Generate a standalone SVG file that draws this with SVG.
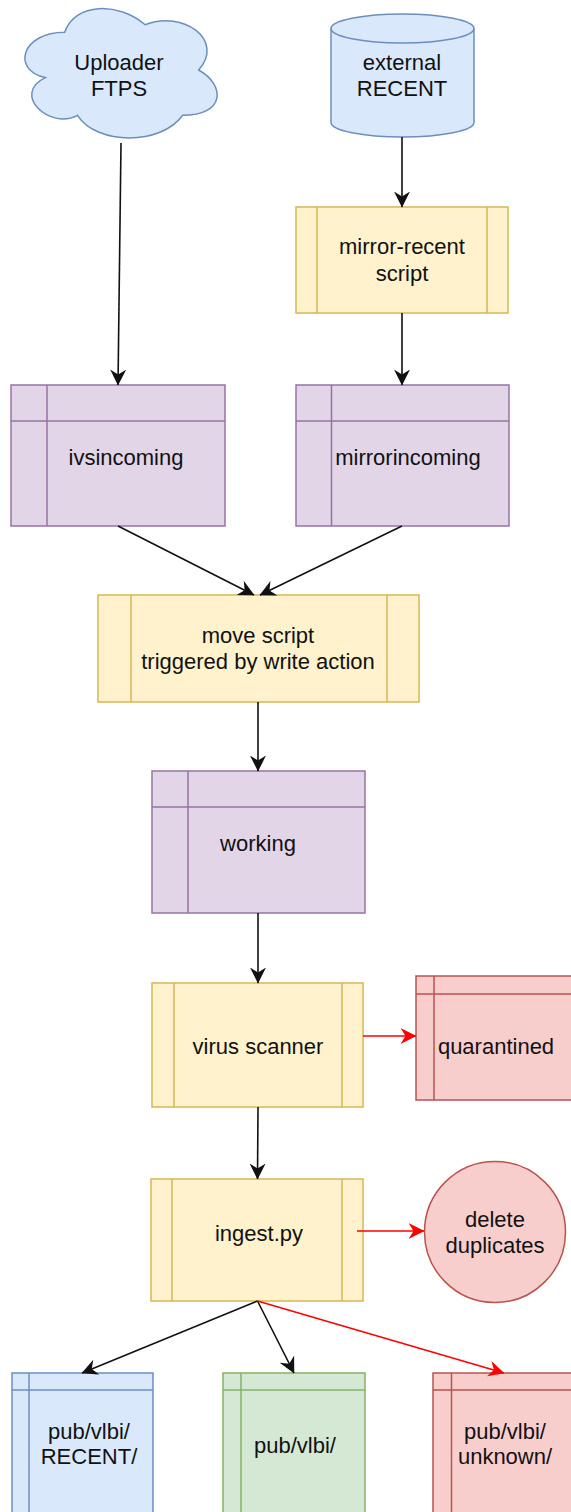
<svg xmlns="http://www.w3.org/2000/svg" width="571" height="1512" viewBox="0 0 571 1512">
  <defs>
    <style>
      .lbl { font-family: "Liberation Sans", Arial, sans-serif; font-size: 22px; fill: #111; text-anchor: middle; }
      .blue { fill: #dae8fc; stroke: #6c8ebf; stroke-width: 1.5; }
      .yellow { fill: #fff2cc; stroke: #d6b656; stroke-width: 1.5; }
      .purple { fill: #e1d5e7; stroke: #9673a6; stroke-width: 1.5; }
      .red { fill: #f8cecc; stroke: #b85450; stroke-width: 1.5; }
      .green { fill: #d5e8d4; stroke: #82b366; stroke-width: 1.5; }
      .inner { fill: none; }
      .edge { fill: none; stroke: #111; stroke-width: 1.6; marker-end: url(#arrow); }
      .edge-red { fill: none; stroke: #ff0000; stroke-width: 1.6; marker-end: url(#arrow-red); }
    </style>
    <marker id="arrow" viewBox="0 0 16 16" markerUnits="userSpaceOnUse" markerWidth="16" markerHeight="16" refX="15.5" refY="8" orient="auto">
      <path d="M0,0 L16,8 L0,16 L5,8 Z" fill="#111"/>
    </marker>
    <marker id="arrow-red" viewBox="0 0 16 16" markerUnits="userSpaceOnUse" markerWidth="16" markerHeight="16" refX="15.5" refY="8" orient="auto">
      <path d="M0,0 L16,8 L0,16 L5,8 Z" fill="#ff0000"/>
    </marker>
  </defs>

  <!-- cloud: Uploader FTPS -->
  <g id="uploader">
    <path class="blue" d="M64.6,32.25 C21.7,32.25 11,70 45.3,77.6 C11,94.2 49.6,130.4 77.5,115.3 C96.8,145.5 161.2,145.5 182.6,115.3 C225.5,115.3 225.5,85.1 198.7,70 C225.5,39.8 182.6,9.6 145.1,24.7 C118.25,2.05 75.35,2.05 64.6,32.25 Z"/>
    <text class="lbl" x="119" y="70">Uploader</text>
    <text class="lbl" x="119" y="96">FTPS</text>
  </g>

  <!-- cylinder: external RECENT -->
  <g id="external-recent">
    <path class="blue" d="M331,28.5 A71.5,14.5 0 0 1 474,28.5 L474,122.5 A71.5,14.5 0 0 1 331,122.5 Z"/>
    <path class="blue inner" d="M331,28.5 A71.5,14.5 0 0 0 474,28.5"/>
    <text class="lbl" x="402" y="70">external</text>
    <text class="lbl" x="402" y="96">RECENT</text>
  </g>

  <!-- process: mirror-recent script -->
  <g id="mirror-recent">
    <rect class="yellow" x="296" y="207" width="212" height="106"/>
    <path class="yellow inner" d="M317,207 V313 M487,207 V313"/>
    <text class="lbl" x="402" y="254">mirror-recent</text>
    <text class="lbl" x="402" y="281">script</text>
  </g>

  <!-- storage: ivsincoming -->
  <g id="ivsincoming">
    <rect class="purple" x="11" y="385" width="214" height="141"/>
    <path class="purple inner" d="M47,385 V526 M11,421 H225"/>
    <text class="lbl" x="126" y="465">ivsincoming</text>
  </g>

  <!-- storage: mirrorincoming -->
  <g id="mirrorincoming">
    <rect class="purple" x="296" y="385" width="213" height="141"/>
    <path class="purple inner" d="M331.5,385 V526 M296,421 H509"/>
    <text class="lbl" x="408" y="465">mirrorincoming</text>
  </g>

  <!-- process: move script -->
  <g id="move-script">
    <rect class="yellow" x="98" y="595" width="321" height="107"/>
    <path class="yellow inner" d="M131,595 V702 M387,595 V702"/>
    <text class="lbl" x="258" y="643">move script</text>
    <text class="lbl" x="258" y="669">triggered by write action</text>
  </g>

  <!-- storage: working -->
  <g id="working">
    <rect class="purple" x="152" y="771" width="213" height="142"/>
    <path class="purple inner" d="M188,771 V913 M152,807 H365"/>
    <text class="lbl" x="258" y="851">working</text>
  </g>

  <!-- process: virus scanner -->
  <g id="virus-scanner">
    <rect class="yellow" x="152" y="983" width="211" height="124"/>
    <path class="yellow inner" d="M174,983 V1107 M342,983 V1107"/>
    <text class="lbl" x="258" y="1054">virus scanner</text>
  </g>

  <!-- storage: quarantined -->
  <g id="quarantined">
    <rect class="red" x="416" y="976" width="212" height="124"/>
    <path class="red inner" d="M434,976 V1100 M416,994 H628"/>
    <text class="lbl" x="496" y="1054">quarantined</text>
  </g>

  <!-- process: ingest.py -->
  <g id="ingest">
    <rect class="yellow" x="151" y="1179" width="212" height="122"/>
    <path class="yellow inner" d="M172,1179 V1301 M342,1179 V1301"/>
    <text class="lbl" x="259" y="1241">ingest.py</text>
  </g>

  <!-- ellipse: delete duplicates -->
  <g id="delete-duplicates">
    <circle class="red" cx="495" cy="1232" r="70.5"/>
    <text class="lbl" x="495" y="1227">delete</text>
    <text class="lbl" x="495" y="1253">duplicates</text>
  </g>

  <!-- storage: pub/vlbi/RECENT/ -->
  <g id="pub-recent">
    <rect class="blue" x="12" y="1373" width="141" height="144"/>
    <path class="blue inner" d="M29,1373 V1517 M12,1390 H153"/>
    <text class="lbl" x="89" y="1439">pub/vlbi/</text>
    <text class="lbl" x="89" y="1464">RECENT/</text>
  </g>

  <!-- storage: pub/vlbi/ -->
  <g id="pub-vlbi">
    <rect class="green" x="223" y="1373" width="142" height="144"/>
    <path class="green inner" d="M241,1373 V1517 M223,1390 H365"/>
    <text class="lbl" x="295" y="1453">pub/vlbi/</text>
  </g>

  <!-- storage: pub/vlbi/unknown/ -->
  <g id="pub-unknown">
    <rect class="red" x="433" y="1373" width="142" height="144"/>
    <path class="red inner" d="M451.5,1373 V1517 M433,1390 H575"/>
    <text class="lbl" x="505" y="1439">pub/vlbi/</text>
    <text class="lbl" x="505" y="1464">unknown/</text>
  </g>

  <!-- connectors, drawn above the nodes -->
  <g id="edges">
    <path class="edge" d="M121,143 L118,385"/>
    <path class="edge" d="M402,137 L402,207"/>
    <path class="edge" d="M402,313 L402,385"/>
    <path class="edge" d="M118,526 L254,595"/>
    <path class="edge" d="M402,526 L260,595"/>
    <path class="edge" d="M258,702 L258,771"/>
    <path class="edge" d="M258,913 L258,983"/>
    <path class="edge-red" d="M363,1036 L416,1036"/>
    <path class="edge" d="M258,1107 L257.5,1179"/>
    <path class="edge-red" d="M357,1231 L424,1231"/>
    <path class="edge" d="M257.5,1301 L82,1373"/>
    <path class="edge" d="M257.5,1301 L294,1373"/>
    <path class="edge-red" d="M257.5,1301 L504,1373"/>
  </g>
</svg>
